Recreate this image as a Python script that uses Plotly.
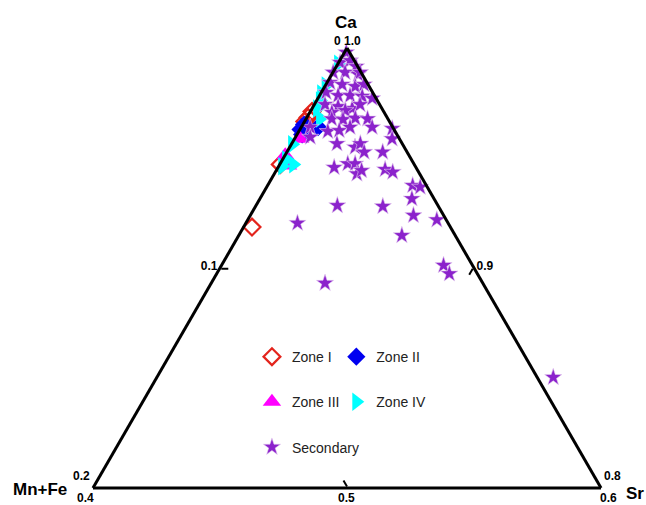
import math
import plotly.graph_objects as go

# ---- data (fractions; Mn+Fe = 1 - Ca - Sr) ----
zone1_ca = [0.9711, 0.9684, 0.9688, 0.9666, 0.9471, 0.9186]
zone1_sr = [0.0007, 0.0005, 0.0027, 0.0001, 0.0002, 0.0033]

zone2_ca = [0.9652, 0.9630, 0.9634, 0.9640, 0.9607]
zone2_sr = [0.0005, 0.0002, 0.0018, 0.0066, 0.0020]

zone3_ca = [0.9587, 0.9512, 0.9466]
zone3_sr = [0.0022, 0.0001, 0.0035]

zone4_ca = [0.9928, 0.9830, 0.9793, 0.9761, 0.9725, 0.9680, 0.9562, 0.9493, 0.9471, 0.9462]
zone4_sr = [0.0001, 0.0001, 0.0002, 0.0013, 0.0020, 0.0054, 0.0003, 0.0014, 0.0053, 0.0014]

sec_ca = [0.9980, 0.9934, 0.9943, 0.9916, 0.9889, 0.9889, 0.9880, 0.9889,
          0.9843, 0.9834, 0.9825, 0.9834, 0.9798, 0.9784, 0.9784, 0.9780, 0.9771,
          0.9743, 0.9734, 0.9725, 0.9743, 0.9707, 0.9716, 0.9678, 0.9675, 0.9681,
          0.9678, 0.9640, 0.9634, 0.9587, 0.9640, 0.9595, 0.9621, 0.9625, 0.9640,
          0.9565, 0.9549, 0.9565, 0.9527, 0.9527, 0.9457, 0.9474, 0.9474, 0.9428,
          0.9443, 0.9448, 0.9436, 0.9375, 0.9368, 0.9315, 0.9284, 0.9280, 0.9239,
          0.9219, 0.9204, 0.9148, 0.9012, 0.8974, 0.8931, 0.8503]
sec_sr = [0.0007, 0.0006, 0.0041, 0.0078, 0.0001, 0.0048, 0.0104, 0.0107,
          0.0012, 0.0064, 0.0120, 0.0150, 0.0019, 0.0073, 0.0120, 0.0170, 0.0214,
          0.0042, 0.0098, 0.0158, 0.0180, 0.0087, 0.0135, 0.0101, 0.0147, 0.0192,
          0.0242, 0.0279, 0.0361, 0.0384, 0.0035, 0.0058, 0.0114, 0.0157, 0.0192,
          0.0178, 0.0257, 0.0270, 0.0304, 0.0377, 0.0221, 0.0266, 0.0295, 0.0325,
          0.0336, 0.0426, 0.0462, 0.0571, 0.0604, 0.0598, 0.0320, 0.0501, 0.0642,
          0.0744, 0.0203, 0.0642, 0.0874, 0.0916, 0.0448, 0.1560]

# axis ranges
CA_MIN, MNFE_MIN, SR_MIN = 0.8, 0.0, 0.0

# axis tick values / labels (middle ticks on the axes, end labels at vertices)
a_tickvals, a_ticktext = [0.9], ["0.1"]
b_tickvals, b_ticktext = [0.1], ["0.5"]
c_tickvals, c_ticktext = [0.1], ["0.9"]
vertex_top_labels = ["0", "1.0"]          # left side end, right side end
vertex_left_labels = ["0.2", "0.4"]       # left side end, bottom side end
vertex_right_labels = ["0.8", "0.6"]      # right side end, bottom side end

FONT = "Liberation Sans, Arial, sans-serif"
W, H = 646, 505
M = dict(l=80, r=32, t=47.5, b=17.3)

# split points that fall outside the triangle (Mn+Fe < 0): ternary hides them,
# so they are drawn on a cartesian overlay using the same ternary projection
in_ca, in_sr, out_ca, out_sr = [], [], [], []
for ca, sr in zip(sec_ca, sec_sr):
    if 1 - ca - sr < 0:
        out_ca.append(ca); out_sr.append(sr)
    else:
        in_ca.append(ca); in_sr.append(sr)

fig = go.Figure()
fig.add_trace(go.Scatterternary(
    a=zone1_ca, c=zone1_sr, sum=1, mode="markers", name="Zone I",
    legend="legend", legendgroup="g1",
    marker=dict(symbol="diamond-open", size=13, color="#e3241c", line=dict(width=2.2, color="#e3241c")),
    cliponaxis=False))
fig.add_trace(go.Scatterternary(
    a=zone2_ca, c=zone2_sr, sum=1, mode="markers", name="Zone II",
    legend="legend2", legendgroup="g2",
    marker=dict(symbol="diamond", size=14, color="#0000f0"),
    cliponaxis=False))
fig.add_trace(go.Scatterternary(
    a=zone3_ca, c=zone3_sr, sum=1, mode="markers", name="Zone III",
    legend="legend", legendgroup="g3",
    marker=dict(symbol="triangle-up", size=16, color="#ff00ff"),
    cliponaxis=False))
fig.add_trace(go.Scatterternary(
    a=zone4_ca, c=zone4_sr, sum=1, mode="markers", name="Zone IV",
    legend="legend2", legendgroup="g4",
    marker=dict(symbol="triangle-right", size=16, color="#00ffff"),
    cliponaxis=False))
star_marker = dict(symbol="star", size=13, color="#8b22cc", line=dict(width=0.6, color="#e6d0f0"))
fig.add_trace(go.Scatterternary(
    a=in_ca, c=in_sr, sum=1, mode="markers", name="Secondary",
    legend="legend", legendgroup="g5",
    marker=star_marker, cliponaxis=False))

# cartesian overlay matching the ternary frame: x = Sr - (Mn+Fe), y = Ca
gw = W - M["l"] - M["r"]
gh = H - M["t"] - M["b"]
tri_w = gh * 2 / math.sqrt(3)
dx0 = (gw - tri_w) / 2 / gw
fig.add_trace(go.Scatter(
    x=[sr - (1 - ca - sr) for ca, sr in zip(out_ca, out_sr)], y=out_ca,
    mode="markers", marker=star_marker, showlegend=False, cliponaxis=False,
    xaxis="x", yaxis="y"))

axis_common = dict(
    showgrid=False, linecolor="black", linewidth=3,
    ticks="inside", ticklen=7, tickwidth=2, tickcolor="black",
    tickmode="array",
    tickfont=dict(family=FONT, size=12, color="black", weight="bold"),
    title=dict(text=""),
)

lab = dict(family=FONT, size=12, color="black")
ttl = dict(family=FONT, size=17, color="black")

def ann(text, x, y, font):
    return dict(text="<b>%s</b>" % text, xref="paper", yref="paper", x=x, y=y,
                xanchor="center", yanchor="middle", showarrow=False, font=font)

fig.update_layout(
    width=W, height=H,
    margin=M,
    paper_bgcolor="white", plot_bgcolor="rgba(0,0,0,0)",
    xaxis=dict(range=[-(1 - CA_MIN), 1 - CA_MIN], domain=[dx0, 1 - dx0], visible=False, fixedrange=True),
    yaxis=dict(range=[CA_MIN, 1.0], domain=[0, 1], visible=False, fixedrange=True),
    ternary=dict(
        sum=1,
        bgcolor="white",
        domain=dict(x=[0, 1], y=[0, 1]),
        aaxis=dict(min=CA_MIN, tickvals=a_tickvals, ticktext=a_ticktext, **axis_common),
        baxis=dict(min=MNFE_MIN, tickvals=b_tickvals, ticktext=b_ticktext,
                   **{**axis_common, "showticklabels": False}),
        caxis=dict(min=SR_MIN, tickvals=c_tickvals, ticktext=c_ticktext, **axis_common),
    ),
    legend=dict(x=0.322, y=0.334, xanchor="left", yanchor="top",
                font=dict(family=FONT, size=14, color="#222"),
                tracegroupgap=24, bgcolor="rgba(0,0,0,0)"),
    legend2=dict(x=0.480, y=0.334, xanchor="left", yanchor="top",
                 font=dict(family=FONT, size=14, color="#222"),
                 tracegroupgap=24, bgcolor="rgba(0,0,0,0)"),
    annotations=[
        ann("Ca", 0.4981, 1.0586, ttl),
        ann("Mn+Fe", -0.0755, -0.003, ttl),
        ann("Sr", 1.0393, -0.012, ttl),
        ann(vertex_top_labels[0], 0.4813, 1.016, lab),
        ann(vertex_top_labels[1], 0.5103, 1.016, lab),
        ann(vertex_left_labels[0], 0.0019, 0.0277, lab),
        ann(vertex_left_labels[1], 0.0094, -0.0235, lab),
        ann(b_ticktext[0], 0.4991, -0.0235, lab),
        ann(vertex_right_labels[0], 0.9981, 0.0277, lab),
        ann(vertex_right_labels[1], 0.9897, -0.0235, lab),
    ],
    showlegend=True,
)

fig.write_html("out.html",
               config={"displayModeBar": False},
               post_script="document.body.style.margin='0';document.body.style.overflow='hidden';")
